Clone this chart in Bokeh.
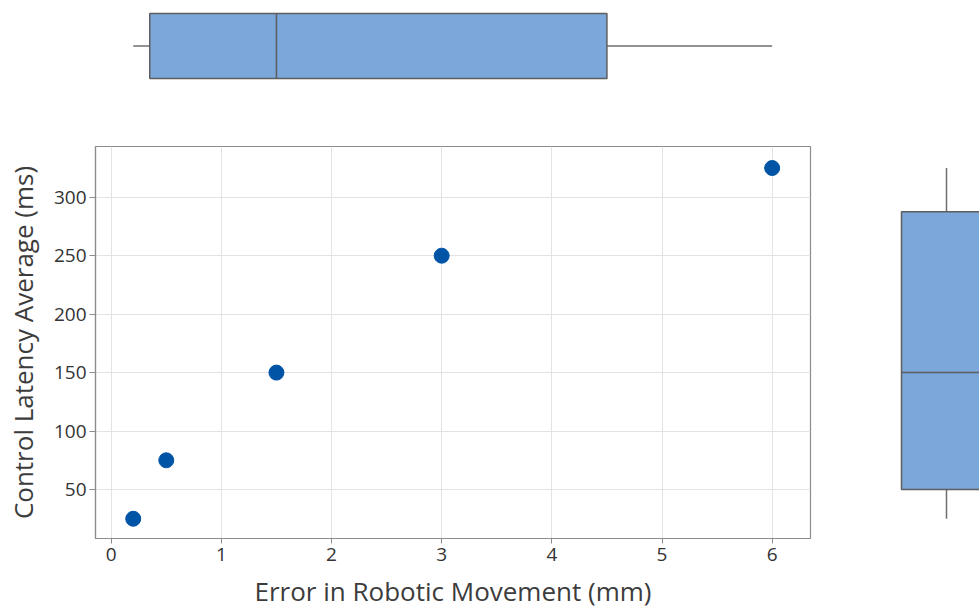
import numpy as np
from bokeh.plotting import figure
from bokeh.layouts import column, row
from bokeh.models import Range1d, FixedTicker
from bokeh.embed import file_html
from bokeh.resources import INLINE

# ---- data ----
error_mm = [0.2, 0.5, 1.5, 3.0, 6.0]
latency_ms = [25, 75, 150, 250, 325]
x_ticks = [0, 1, 2, 3, 4, 5, 6]
y_ticks = [50, 100, 150, 200, 250, 300]
x_title = "Error in Robotic Movement (mm)"
y_title = "Control Latency Average (ms)"

FONT = "Open Sans"
TEXT = "#333333"
POINT = "#0054A6"
BOX_FILL = "#7BA7DA"
BOX_LINE = "#5E5E5E"
FRAME = "#8C8C8C"
GRID = "#E3E3E3"


def box_stats(vals):
    v = np.sort(np.asarray(vals, dtype=float))
    n = len(v)

    def q(p):
        pos = p * (n + 1)
        lo = int(np.floor(pos))
        frac = pos - lo
        lo = min(max(lo, 1), n)
        hi = min(lo + 1, n)
        return v[lo - 1] + frac * (v[hi - 1] - v[lo - 1])

    q1, med, q3 = q(0.25), q(0.5), q(0.75)
    iqr = q3 - q1
    lw = v[v >= q1 - 1.5 * iqr].min()
    uw = v[v <= q3 + 1.5 * iqr].max()
    return lw, q1, med, q3, uw


x_range = Range1d(-0.1425, 6.348)
y_range = Range1d(8.1, 343.4)

LB, RB, TB, BB = 95, 11, 46, 74
MAIN_W, MAIN_H = 821, 512
TOP_H = 100

# ---- main scatter ----
p = figure(width=MAIN_W, height=MAIN_H, x_range=x_range, y_range=y_range,
           output_backend="svg", toolbar_location=None,
           min_border_left=LB, min_border_right=RB, min_border_top=TB, min_border_bottom=BB)
p.scatter(error_mm, latency_ms, size=15, fill_color=POINT, line_color=POINT)

p.outline_line_color = FRAME
p.outline_line_width = 1.2
for ax in (p.xaxis[0], p.yaxis[0]):
    ax.axis_line_color = FRAME
    ax.axis_line_width = 1.2
    ax.major_tick_line_color = FRAME
    ax.major_tick_in = 0
    ax.minor_tick_line_color = None
    ax.major_label_text_font = FONT
    ax.major_label_text_font_size = "19px"
    ax.major_label_text_color = TEXT
    ax.axis_label_text_font = FONT
    ax.axis_label_text_font_style = "normal"
    ax.axis_label_text_color = "#3C3C3C"

p.xaxis[0].ticker = FixedTicker(ticks=x_ticks)
p.yaxis[0].ticker = FixedTicker(ticks=y_ticks)
p.xaxis[0].axis_label = x_title
p.yaxis[0].axis_label = y_title
p.xaxis[0].axis_label_text_font_size = "26px"
p.yaxis[0].axis_label_text_font_size = "26px"
p.xaxis[0].major_tick_out = 5
p.yaxis[0].major_tick_out = 6
p.xaxis[0].major_label_standoff = 4
p.yaxis[0].major_label_standoff = 3
p.xaxis[0].axis_label_standoff = 9
p.yaxis[0].axis_label_standoff = 10

p.xgrid.grid_line_color = GRID
p.ygrid.grid_line_color = GRID
p.xgrid.ticker = FixedTicker(ticks=x_ticks)
p.ygrid.ticker = FixedTicker(ticks=y_ticks)

# ---- top boxplot (x variable) ----
lw, q1, med, q3, uw = box_stats(error_mm)
top = figure(width=MAIN_W, height=TOP_H, x_range=x_range, y_range=Range1d(0, 100),
             output_backend="svg", toolbar_location=None,
             min_border_left=LB, min_border_right=RB, min_border_top=0, min_border_bottom=0)
top.axis.visible = False
top.grid.visible = False
top.outline_line_color = None
yc, hh = 54.5, 32.5
top.segment(x0=[lw, q3], y0=[yc, yc], x1=[q1, uw], y1=[yc, yc], line_color="#6E6E6E", line_width=1.5)
top.quad(left=[q1], right=[q3], bottom=[yc - hh], top=[yc + hh],
         fill_color=BOX_FILL, line_color=BOX_LINE, line_width=1.5)
top.segment(x0=[med], y0=[yc - hh], x1=[med], y1=[yc + hh], line_color=BOX_LINE, line_width=1.5)

# ---- right boxplot (y variable) ----
lw2, q12, med2, q32, uw2 = box_stats(latency_ms)
right = figure(width=158, height=MAIN_H, x_range=Range1d(0, 158), y_range=y_range,
               output_backend="svg", toolbar_location=None,
               min_border_left=0, min_border_right=0, min_border_top=TB, min_border_bottom=BB)
right.axis.visible = False
right.grid.visible = False
right.outline_line_color = None
xc, hw = 125, 45
right.segment(x0=[xc, xc], y0=[lw2, q32], x1=[xc, xc], y1=[q12, uw2], line_color="#6E6E6E", line_width=1.5)
right.quad(left=[xc - hw], right=[xc + hw], bottom=[q12], top=[q32],
           fill_color=BOX_FILL, line_color=BOX_LINE, line_width=1.5)
right.segment(x0=[xc - hw], y0=[med2], x1=[xc + hw], y1=[med2], line_color=BOX_LINE, line_width=1.5)

layout = column(top, row(p, right))
open("out.html", "w").write(file_html(layout, INLINE))
